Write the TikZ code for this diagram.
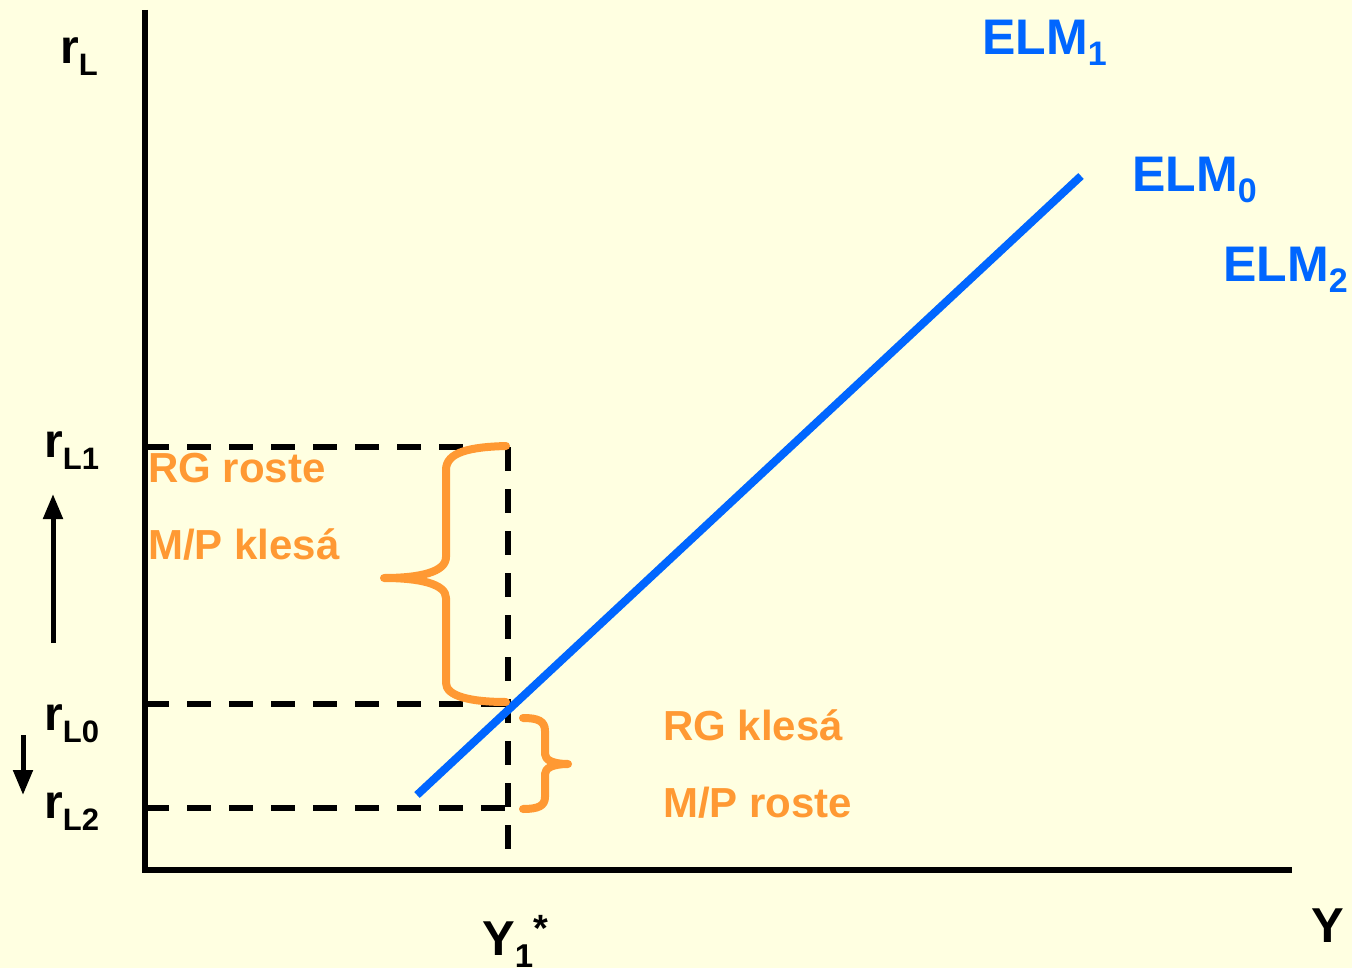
\documentclass[tikz,border=0pt]{standalone}
\usepackage{fontspec}
\setmainfont{Liberation Sans}
\usetikzlibrary{arrows.meta}
\definecolor{bgc}{HTML}{FFFFE1}
\definecolor{elmblue}{HTML}{0066FF}
\definecolor{orng}{HTML}{FF9933}
\newcommand{\rlab}[1]{{\fontsize{48}{48}\selectfont r}\raisebox{-12pt}{\fontsize{31}{31}\selectfont #1}}
\newcommand{\elmlab}[1]{{\fontsize{50}{50}\selectfont ELM}\raisebox{-11pt}{\fontsize{34}{34}\selectfont #1}}
\begin{document}
\begin{tikzpicture}[x=1pt,y=-1pt,
  lab/.style={inner sep=0pt,anchor=base west,font=\bfseries},
  otxt/.style={lab,text=orng,font=\bfseries\fontsize{42}{42}\selectfont},
  btxt/.style={lab,text=elmblue},
  axis/.style={line width=6.5pt},
  guide/.style={line width=5.5pt,dash pattern=on 24pt off 18pt},
  bracestyle/.style={draw=orng,line width=8pt,line cap=round,line join=round},
  moveup/.style={line width=5pt,-{Triangle[length=25pt,width=19pt]}}]
\fill[bgc] (0,0) rectangle (1352,968);
\useasboundingbox (0,0) rectangle (1352,968);
% axes
\coordinate (O) at (145,870);
\coordinate (Ytop) at (145,10);
\coordinate (Xend) at (1292,870);
\draw[axis] (Ytop) -- (O) -- (Xend);
% guide lines
\coordinate (a1) at (145,447); \coordinate (b1) at (508,447);
\coordinate (a0) at (145,704); \coordinate (b0) at (508,704);
\coordinate (a2) at (145,808); \coordinate (b2) at (508,808);
\coordinate (vb) at (508,850);
\draw[guide] (a1) -- (b1);
\draw[guide] (a0) -- (b0);
\draw[guide] (a2) -- (b2);
\draw[guide] (b1) -- (vb);
% ELM line
\coordinate (e1) at (417,795); \coordinate (e2) at (1081,176);
\draw[elmblue,line width=8pt] (e1) -- (e2);
% braces
\draw[bracestyle] (506,446) .. controls (470,447) and (446,452) .. (446,470) -- (446,557)
  .. controls (446,572) and (420,578) .. (384,578)
  .. controls (420,578) and (446,584) .. (446,598) -- (446,683)
  .. controls (446,696) and (470,702) .. (506,702);
\draw[bracestyle] (523,718) .. controls (538,718) and (545,721) .. (545,731) -- (545,754)
  .. controls (545,760) and (553,764) .. (568,764)
  .. controls (553,764) and (545,768) .. (545,774) -- (545,797)
  .. controls (545,806) and (538,809) .. (523,809);
% arrows
\coordinate (u1) at (53,643); \coordinate (u2) at (53,494);
\coordinate (d1) at (23,735); \coordinate (d2) at (23,795);
\draw[moveup] (u1) -- (u2);
\draw[moveup] (d1) -- (d2);
% labels
\node[lab] (rL) at (60,64) {\rlab{L}};
\node[lab] (rL1) at (44,457) {\rlab{L1}};
\node[lab] (rL0) at (44,730) {\rlab{L0}};
\node[lab] (rL2) at (44,818) {\rlab{L2}};
\node[lab,font=\bfseries\fontsize{49}{49}\selectfont] (Y) at (1311,942) {Y};
\node[lab] (Y1) at (482,955) {{\fontsize{49}{49}\selectfont Y}\raisebox{-12pt}{\fontsize{33}{33}\selectfont 1}\raisebox{14pt}{\fontsize{38}{38}\selectfont *}};
\node[btxt] (elm1) at (982,55) {\elmlab{1}};
\node[btxt] (elm0) at (1132,192) {\elmlab{0}};
\node[btxt] (elm2) at (1223,282) {\elmlab{2}};
\node[otxt] (t1) at (148,482) {RG roste};
\node[otxt] (t2) at (148,559) {M/P klesá};
\node[otxt] (t3) at (663,740) {RG klesá};
\node[otxt] (t4) at (663,817) {M/P roste};
\end{tikzpicture}
\end{document}
